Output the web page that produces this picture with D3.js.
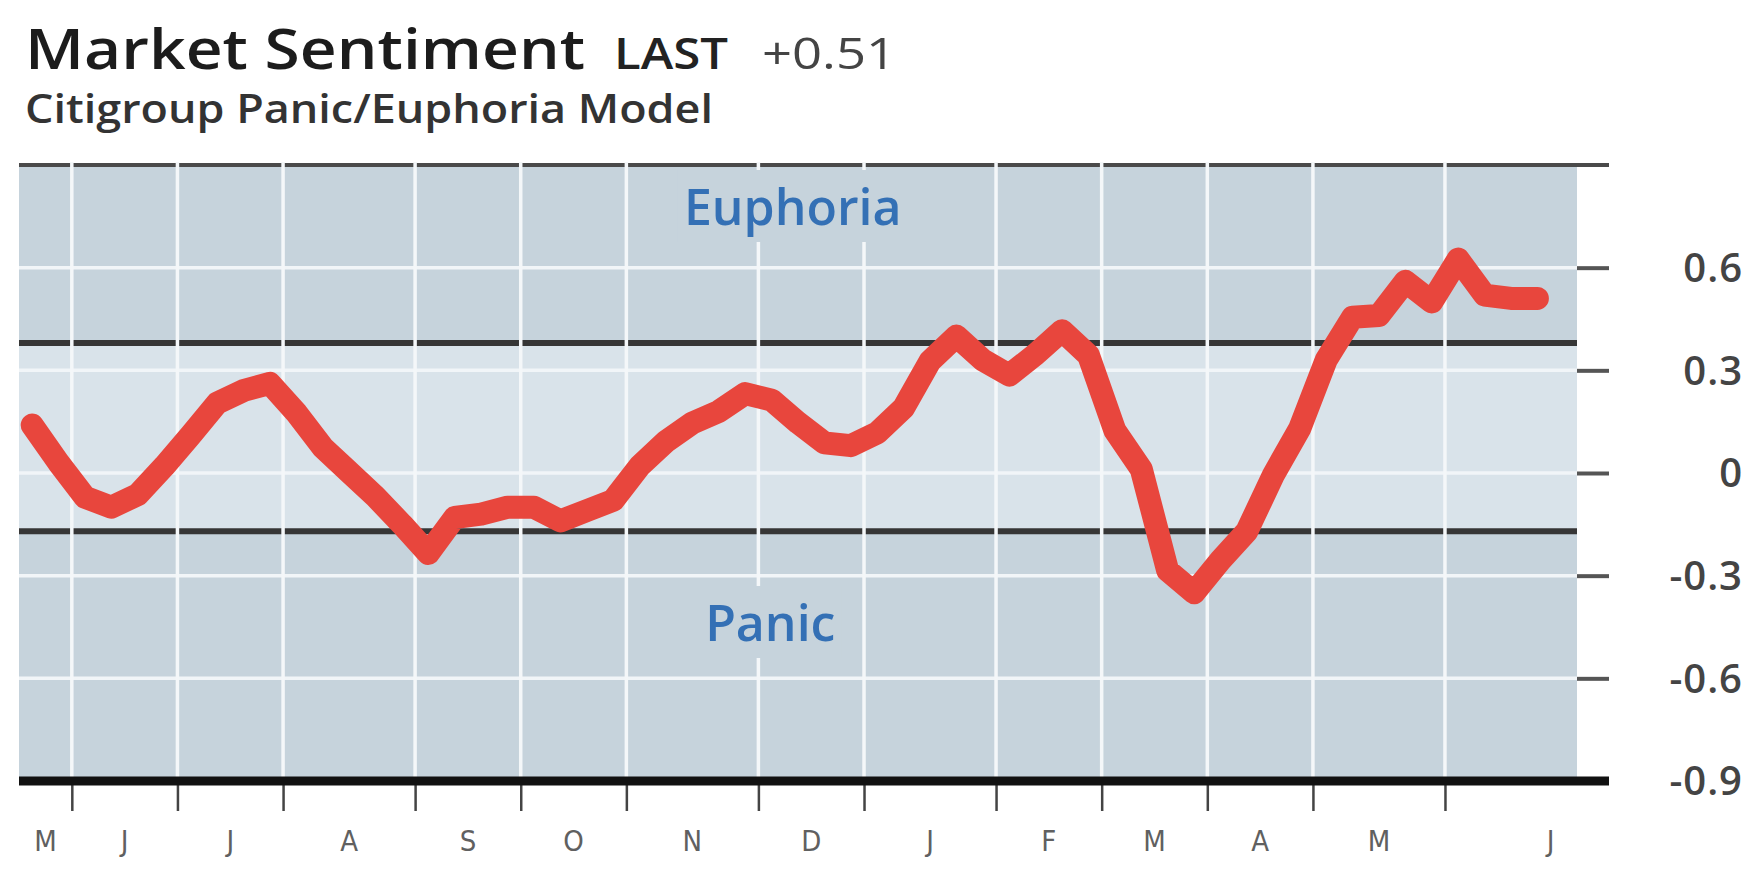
<!DOCTYPE html>
<html><head><meta charset="utf-8">
<script src="https://cdn.jsdelivr.net/npm/d3@7"></script>
<style>body{margin:0;background:#fff} svg{display:block}</style>
</head><body><svg id="c" width="1756" height="878"></svg>
<script>
// ---- data ----
const sentiment = [0.14, 0.03, -0.071, -0.10, -0.063, 0.02, 0.11, 0.204, 0.241, 0.262,
  0.176, 0.075, 0.003, -0.069, -0.15, -0.235, -0.13, -0.12, -0.10, -0.10,
  -0.14, -0.11, -0.08, 0.02, 0.092, 0.146, 0.18, 0.232, 0.213, 0.147,
  0.088, 0.08, 0.117, 0.19, 0.327, 0.40, 0.33, 0.286, 0.347, 0.416,
  0.344, 0.124, 0.011, -0.285, -0.35, -0.255, -0.17, -0.006, 0.13, 0.33,
  0.455, 0.46, 0.56, 0.50, 0.625, 0.52, 0.51, 0.51];
const monthLabels = ["M","J","J","A","S","O","N","D","J","F","M","A","M","J"];
const monthStartWeek = [2, 6, 10, 15, 19, 23, 28, 32, 37, 41, 45, 49, 54];
const monthLabelWeek = [0.5, 3.5, 7.5, 12, 16.5, 20.5, 25, 29.5, 34, 38.5, 42.5, 46.5, 51, 57.5];
const yGridValues = [0.6, 0.3, 0, -0.3, -0.6];
const yLabelValues = [0.6, 0.3, 0, -0.3, -0.6, -0.9];
const euphoriaLevel = 0.38, panicLevel = -0.17;
const titleText = "Market Sentiment", lastLabel = "LAST", lastValue = "+0.51";
const subtitleText = "Citigroup Panic/Euphoria Model";

// ---- scales ----
const svg = d3.select('#c');
const x = d3.scaleLinear().domain([-0.5, 58.5]).range([19, 1577]);
const y = d3.scaleLinear().domain([-0.9, 0.9]).range([781, 165]);
const L = x.range()[0], R = x.range()[1], T = y(0.9), B = y(-0.9);
const axisEnd = 1609;
const darkBg = '#c6d3dc', lightBg = '#d9e3ea';

// backgrounds
svg.append('rect').attr('x', L).attr('y', T).attr('width', R - L).attr('height', B - T).attr('fill', darkBg);
svg.append('rect').attr('x', L).attr('y', y(euphoriaLevel)).attr('width', R - L)
  .attr('height', y(panicLevel) - y(euphoriaLevel)).attr('fill', lightBg);

// horizontal white grid
svg.append('g').selectAll('line').data(yGridValues).join('line')
  .attr('x1', L).attr('x2', R).attr('y1', d => y(d)).attr('y2', d => y(d))
  .attr('stroke', '#f1f5f8').attr('stroke-width', 3.5);

// threshold lines
svg.append('g').selectAll('line').data([euphoriaLevel, panicLevel]).join('line')
  .attr('x1', L).attr('x2', R).attr('y1', d => y(d)).attr('y2', d => y(d))
  .attr('stroke', '#363636').attr('stroke-width', 6);

// top line
svg.append('line').attr('x1', L).attr('x2', axisEnd).attr('y1', T).attr('y2', T)
  .attr('stroke', '#4a4a4a').attr('stroke-width', 4);

// vertical white grid at month boundaries
svg.append('g').selectAll('line').data(monthStartWeek).join('line')
  .attr('x1', d => x(d - 0.5)).attr('x2', d => x(d - 0.5)).attr('y1', T - 3).attr('y2', B - 4)
  .attr('stroke', '#f4f7f9').attr('stroke-width', 3.5);

// zone labels with knock-out
function zoneLabel(text, cx, baseline) {
  const g = svg.append('g');
  const r = g.append('rect').attr('fill', darkBg);
  const t = g.append('text').attr('x', cx).attr('y', baseline).attr('text-anchor', 'middle')
    .attr('font-family', 'Open Sans, Noto Sans, sans-serif').attr('font-weight', 600)
    .attr('font-size', 50).attr('fill', '#3470b5').text(text);
  const bb = t.node().getBBox();
  r.attr('x', bb.x - 6).attr('y', bb.y - 2).attr('width', bb.width + 12).attr('height', bb.height + 4);
}
zoneLabel('Euphoria', x(28.8), 225);
zoneLabel('Panic', x(27.95), 641);

// sentiment line
const line = d3.line().x((d, i) => x(i)).y(d => y(d));
svg.append('path').datum(sentiment).attr('d', line)
  .attr('fill', 'none').attr('stroke', '#e8463d').attr('stroke-width', 23)
  .attr('stroke-linejoin', 'round').attr('stroke-linecap', 'round');

// bottom axis
const xAxis = d3.axisBottom(x).tickValues(monthStartWeek.map(d => d - 0.5)).tickSize(30).tickFormat('');
const gx = svg.append('g').attr('transform', `translate(0,${B})`).call(xAxis);
gx.select('.domain').remove();
gx.selectAll('.tick line').attr('stroke', '#444').attr('stroke-width', 2.5);
svg.append('line').attr('x1', L).attr('x2', axisEnd).attr('y1', B).attr('y2', B)
  .attr('stroke', '#111').attr('stroke-width', 9);

// month labels
svg.append('g').selectAll('text').data(monthLabels).join('text')
  .attr('x', (d, i) => x(monthLabelWeek[i])).attr('y', 851).attr('text-anchor', 'middle')
  .attr('font-family', 'Liberation Sans Narrow, DejaVu Sans Condensed, Roboto, sans-serif')
  .attr('font-size', 29).attr('fill', '#606060').text(d => d);

// right axis ticks
const yAxis = d3.axisRight(y).tickValues(yGridValues).tickSize(axisEnd - R).tickFormat('');
const gy = svg.append('g').attr('transform', `translate(${R},0)`).call(yAxis);
gy.select('.domain').remove();
gy.selectAll('.tick line').attr('stroke', '#555').attr('stroke-width', 4);

// right labels
svg.append('g').selectAll('text').data(yLabelValues).join('text')
  .attr('x', 1743).attr('y', d => y(d)).attr('dy', '0.36em').attr('text-anchor', 'end')
  .attr('font-family', 'Open Sans, Noto Sans, sans-serif').attr('font-weight', 600)
  .attr('font-size', 40).attr('letter-spacing', 1).attr('fill', '#444')
  .text(d => d === 0 ? '0' : String(d));

// titles
function fitText(text, xPos, baseline, size, weight, fill, width) {
  return svg.append('text').attr('x', xPos).attr('y', baseline)
    .attr('font-family', 'Open Sans, Noto Sans, sans-serif').attr('font-weight', weight)
    .attr('font-size', size).attr('fill', fill)
    .attr('textLength', width).attr('lengthAdjust', 'spacingAndGlyphs').text(text);
}
fitText(titleText, 25, 69, 56, 600, '#1c1c1c', 560);
fitText(lastLabel, 614, 69, 43, 600, '#222', 114);
fitText(lastValue, 762, 69, 44, 400, '#444', 134);
fitText(subtitleText, 25, 123, 39, 600, '#333', 688);
</script></body></html>
